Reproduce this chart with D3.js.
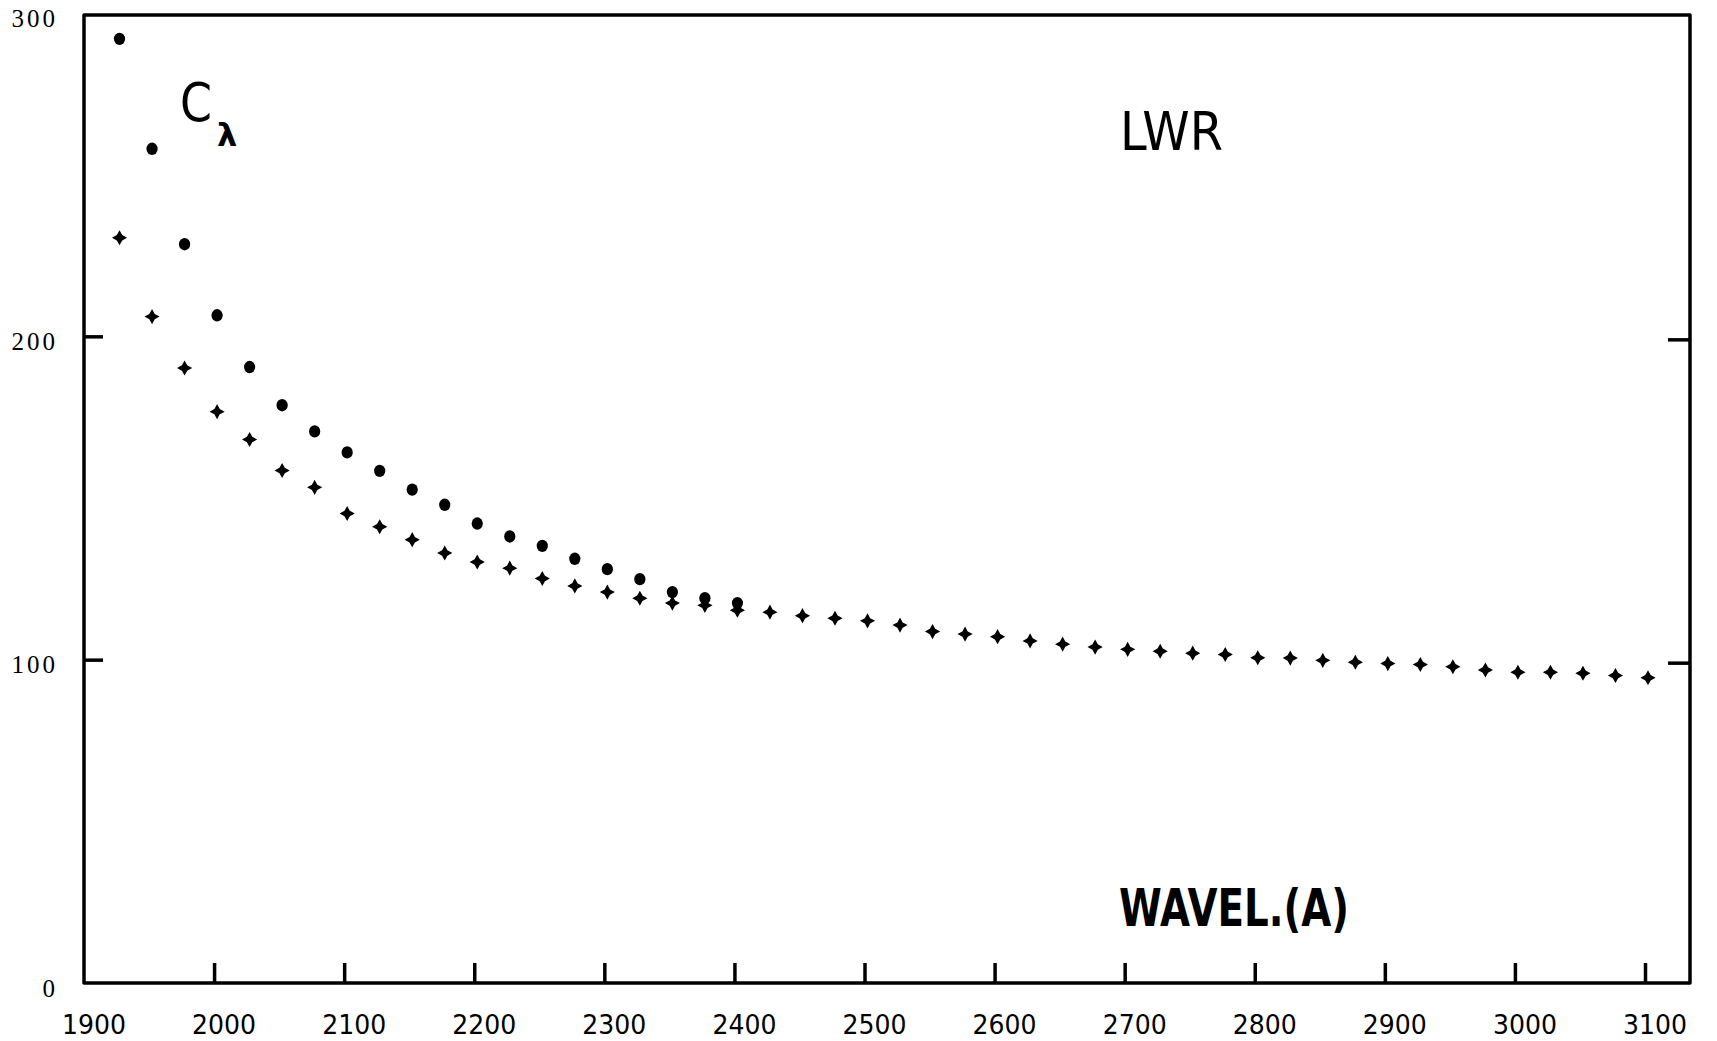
<!DOCTYPE html>
<html>
<head>
<meta charset="utf-8">
<script src="https://cdn.jsdelivr.net/npm/d3@7"></script>
<style>
  html, body { margin: 0; padding: 0; background: #fff; }
  svg { display: block; }
</style>
</head>
<body>
<svg id="chart" width="1717" height="1041"></svg>
<script>
// ---- data ----
const dotWavelengths = [1925, 1950, 1975, 2000, 2025, 2050, 2075, 2100, 2125, 2150,
                        2175, 2200, 2225, 2250, 2275, 2300, 2325, 2350, 2375, 2400];
const dotValues = [292, 258, 228.5, 206.5, 190.5, 178.7, 170.6, 164.1, 158.4, 152.6,
                   147.9, 142.1, 138.1, 135.2, 131.2, 128, 124.9, 120.9, 119, 117.5];

const plusWavelengths = [1925, 1950, 1975, 2000, 2025, 2050, 2075, 2100, 2125, 2150,
                         2175, 2200, 2225, 2250, 2275, 2300, 2325, 2350, 2375, 2400,
                         2425, 2450, 2475, 2500, 2525, 2550, 2575, 2600, 2625, 2650,
                         2675, 2700, 2725, 2750, 2775, 2800, 2825, 2850, 2875, 2900,
                         2925, 2950, 2975, 3000, 3025, 3050, 3075, 3100];
const plusValues = [230.5, 206.1, 190.2, 176.7, 168.1, 158.5, 153.3, 145.2, 141.1, 137.1,
                    133.0, 130.2, 128.3, 125.1, 122.8, 120.9, 119.0, 117.5, 116.8, 115.3,
                    114.7, 113.6, 112.8, 112.0, 110.7, 108.7, 107.9, 107.1, 105.8, 104.8,
                    103.9, 103.2, 102.6, 102.0, 101.6, 100.6, 100.5, 99.8, 99.2, 98.8,
                    98.5, 97.8, 96.8, 96.1, 96.1, 95.8, 95.1, 94.4];

const xTickValues = [1900, 2000, 2100, 2200, 2300, 2400, 2500, 2600, 2700, 2800, 2900, 3000, 3100];
const xTickLabels = ["1900", "2000", "2100", "2200", "2300", "2400", "2500", "2600", "2700", "2800", "2900", "3000", "3100"];
const yTickValues = [0, 100, 200, 300];
const yTickLabels = ["0", "100", "200", "300"];
const rightTickValues = [100, 200];

(function () {
// ---- layout ----
const svg = d3.select("#chart");
svg.append("rect").attr("width", 1717).attr("height", 1041).attr("fill", "#fff");

const fLeft = 84, fRight = 1690, fTop = 15, fBottom = 983;
const x = d3.scaleLinear().domain([1900, 3100]).range([84, 1645]);
const y = d3.scaleLinear().domain([0, 300]).range([983, 13]);

const ink = "#000";

// frame
svg.append("path")
  .attr("d", `M${fLeft},${fTop} L${fRight},${fTop} L${fRight},${fBottom} L${fLeft},${fBottom} Z`)
  .attr("fill", "none").attr("stroke", ink).attr("stroke-width", 3.5)
  .attr("stroke-linejoin", "round");

// bottom ticks (inward)
const xAxis = d3.axisBottom(x).tickValues(xTickValues.slice(1))
  .tickSizeInner(-20).tickSizeOuter(0).tickFormat("");
const gx = svg.append("g").attr("transform", `translate(0,${fBottom})`).call(xAxis);
gx.select(".domain").remove();
gx.selectAll("line").attr("stroke", ink).attr("stroke-width", 3.5);

// x tick labels
svg.append("g").selectAll("text").data(xTickValues).join("text")
  .attr("x", d => x(d) + 10)
  .attr("y", 1034)
  .attr("text-anchor", "middle")
  .attr("font-family", "DejaVu Sans, sans-serif")
  .attr("font-size", 26)
  .attr("textLength", 64).attr("lengthAdjust", "spacingAndGlyphs")
  .attr("fill", ink)
  .text((d, i) => xTickLabels[i]);

// left ticks (inward)
const yAxis = d3.axisLeft(y).tickValues([100, 200]).tickSizeInner(-19).tickSizeOuter(0).tickFormat("");
const gy = svg.append("g").attr("transform", `translate(${fLeft},0)`).call(yAxis);
gy.select(".domain").remove();
gy.selectAll("line").attr("stroke", ink).attr("stroke-width", 3.5);

// right ticks (inward)
const yAxisR = d3.axisRight(y).tickValues(rightTickValues).tickSizeInner(-22).tickSizeOuter(0).tickFormat("");
const gyr = svg.append("g").attr("transform", `translate(${fRight},3)`).call(yAxisR);
gyr.select(".domain").remove();
gyr.selectAll("line").attr("stroke", ink).attr("stroke-width", 3.5);

// y tick labels
svg.append("g").selectAll("text").data(yTickValues).join("text")
  .attr("x", 58)
  .attr("y", d => y(d) + 5)
  .attr("dominant-baseline", "central")
  .attr("text-anchor", "end")
  .attr("font-family", "Liberation Serif, serif")
  .attr("font-size", 25)
  .attr("letter-spacing", 3)
  .attr("fill", ink)
  .text((d, i) => yTickLabels[i]);

// ---- markers ----
const star4 = {
  draw(ctx, size) {
    const ro = Math.sqrt(size) * 0.6, ri = ro * 0.5;
    for (let k = 0; k < 8; k++) {
      const a = k * Math.PI / 4 - Math.PI / 2;
      const r = k % 2 === 0 ? ro : ri;
      const px = r * Math.cos(a), py = r * Math.sin(a);
      if (k === 0) ctx.moveTo(px, py); else ctx.lineTo(px, py);
    }
    ctx.closePath();
  }
};

const plusData = plusWavelengths.map((w, i) => ({ w, v: plusValues[i] }));
const dotData = dotWavelengths.map((w, i) => ({ w, v: dotValues[i] }));

svg.append("g").selectAll("path").data(plusData).join("path")
  .attr("transform", d => `translate(${x(d.w) + 3},${y(d.v)})`)
  .attr("d", d3.symbol().type(star4).size(160))
  .attr("fill", ink);

svg.append("g").selectAll("ellipse").data(dotData).join("ellipse")
  .attr("cx", d => x(d.w) + 3)
  .attr("cy", d => y(d.v))
  .attr("rx", 5.6)
  .attr("ry", 6.2)
  .attr("fill", ink);

// ---- annotations ----
svg.append("text")
  .attr("x", 180).attr("y", 121)
  .attr("font-family", "DejaVu Sans, sans-serif")
  .attr("font-size", 54)
  .attr("textLength", 32).attr("lengthAdjust", "spacingAndGlyphs")
  .attr("fill", ink).text("C");
svg.append("text")
  .attr("x", 217).attr("y", 146)
  .attr("font-family", "DejaVu Sans, sans-serif")
  .attr("font-weight", "bold")
  .attr("font-size", 32)
  .attr("fill", ink).text("λ");

svg.append("text")
  .attr("x", 1120).attr("y", 150)
  .attr("font-family", "DejaVu Sans, sans-serif")
  .attr("font-size", 54)
  .attr("textLength", 103).attr("lengthAdjust", "spacingAndGlyphs")
  .attr("fill", ink).text("LWR");

svg.append("text")
  .attr("x", 1119).attr("y", 926)
  .attr("font-family", "DejaVu Sans, sans-serif")
  .attr("font-weight", "bold")
  .attr("font-size", 52)
  .attr("textLength", 230).attr("lengthAdjust", "spacingAndGlyphs")
  .attr("fill", ink).text("WAVEL.(A)");
})();
</script>
</body>
</html>
